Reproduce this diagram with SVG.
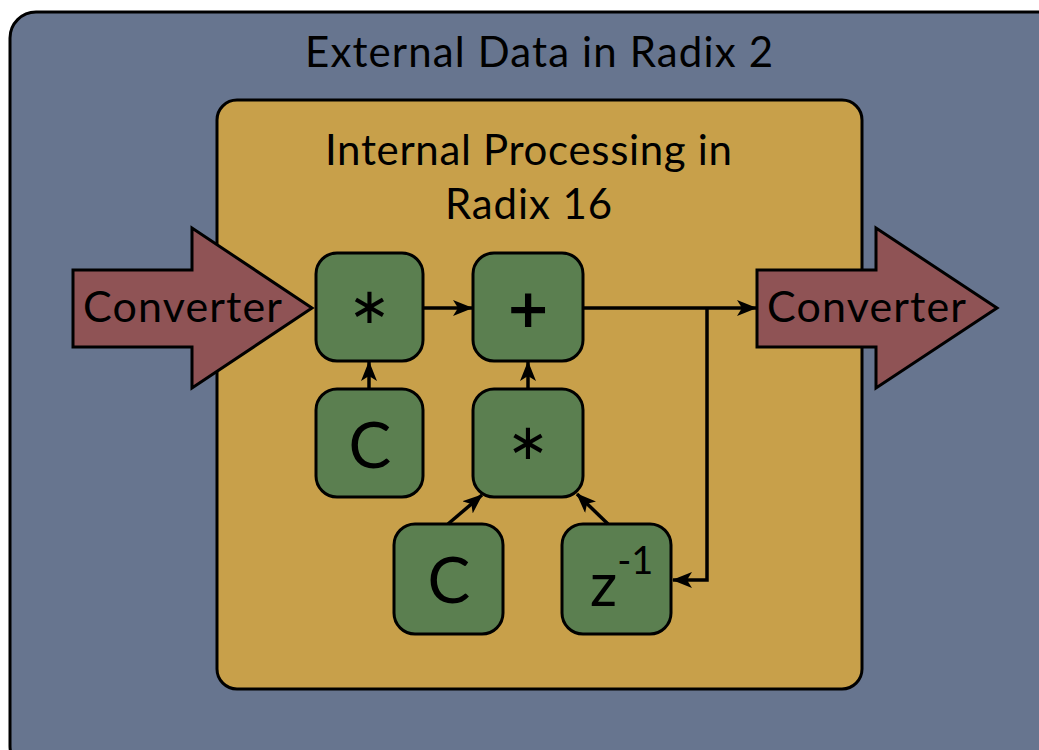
<svg xmlns="http://www.w3.org/2000/svg" width="1039" height="750" viewBox="0 0 1039 750">
<defs>
<style>
.txt{font-family:Lato,"Open Sans","Liberation Sans",sans-serif;fill:#000;}
.sym{font-family:"DejaVu Sans","Liberation Sans",sans-serif;fill:#000;}
.node rect{fill:#5B7F50;stroke:#000;stroke-width:3;}
.conv{fill:#8F5355;stroke:#000;stroke-width:3;stroke-linejoin:miter;}
.edge{fill:none;stroke:#000;stroke-width:3.5;}
</style>
<marker id="ah" viewBox="0 0 20 16" refX="19" refY="8" markerWidth="20" markerHeight="16" markerUnits="userSpaceOnUse" orient="auto">
<path d="M0,0 L20,8 L0,16 L5,8 Z" fill="#000"/>
</marker>
</defs>
<g id="external">
<rect x="10" y="12" width="1060" height="760" rx="26" fill="#67758F" stroke="#000" stroke-width="3"/>
<text class="txt" x="305" y="67" font-size="42" textLength="468">External Data in Radix 2</text>
</g>
<g id="internal">
<rect x="217" y="100" width="645" height="589" rx="20" fill="#C8A04A" stroke="#000" stroke-width="3"/>
<text class="txt" x="325" y="165" font-size="42" textLength="407">Internal Processing in</text>
<text class="txt" x="445" y="219" font-size="42" textLength="167">Radix 16</text>
</g>
<g id="converter-in">
<polygon class="conv" points="73,270 192,270 192,228 312,308 192,388 192,347 73,347"/>
<text class="txt" x="83" y="322" font-size="43" textLength="199">Converter</text>
</g>
<g id="converter-out">
<polygon class="conv" points="757,270 876,270 876,228 997,308 876,388 876,347 757,347"/>
<text class="txt" x="767" y="322" font-size="43" textLength="199">Converter</text>
</g>
<g id="mul1" class="node">
<rect x="316" y="253" width="107" height="108" rx="21"/>
<text class="sym" x="369.5" y="323" font-size="50" text-anchor="middle">∗</text>
</g>
<g id="add" class="node">
<rect x="473" y="253" width="110" height="108" rx="21"/>
<text class="sym" x="528" y="327" font-size="54" font-weight="bold" text-anchor="middle">+</text>
</g>
<g id="c1" class="node">
<rect x="316" y="389" width="107" height="108" rx="21"/>
<text class="txt" x="370" y="468" font-size="64" text-anchor="middle">C</text>
</g>
<g id="mul2" class="node">
<rect x="473" y="389" width="110" height="108" rx="21"/>
<text class="sym" x="528" y="459" font-size="50" text-anchor="middle">∗</text>
</g>
<g id="c2" class="node">
<rect x="394" y="524" width="109" height="110" rx="21"/>
<text class="txt" x="449" y="603" font-size="64" text-anchor="middle">C</text>
</g>
<g id="zinv" class="node">
<rect x="562" y="524" width="109" height="110" rx="21"/>
<text class="txt" x="590" y="606" font-size="60">z<tspan font-size="38" dy="-32">-1</tspan></text>
</g>
<g id="connectors">
<line class="edge" x1="423" y1="308" x2="472" y2="308" marker-end="url(#ah)"/>
<line class="edge" x1="583" y1="308" x2="756" y2="308" marker-end="url(#ah)"/>
<polyline class="edge" points="707,308 707,580 673,580" marker-end="url(#ah)"/>
<line class="edge" x1="369" y1="389" x2="369" y2="362" marker-end="url(#ah)"/>
<line class="edge" x1="528" y1="389" x2="528" y2="362" marker-end="url(#ah)"/>
<line class="edge" x1="448" y1="524" x2="482" y2="495" marker-end="url(#ah)"/>
<line class="edge" x1="608" y1="524" x2="577" y2="494" marker-end="url(#ah)"/>
</g>
</svg>
